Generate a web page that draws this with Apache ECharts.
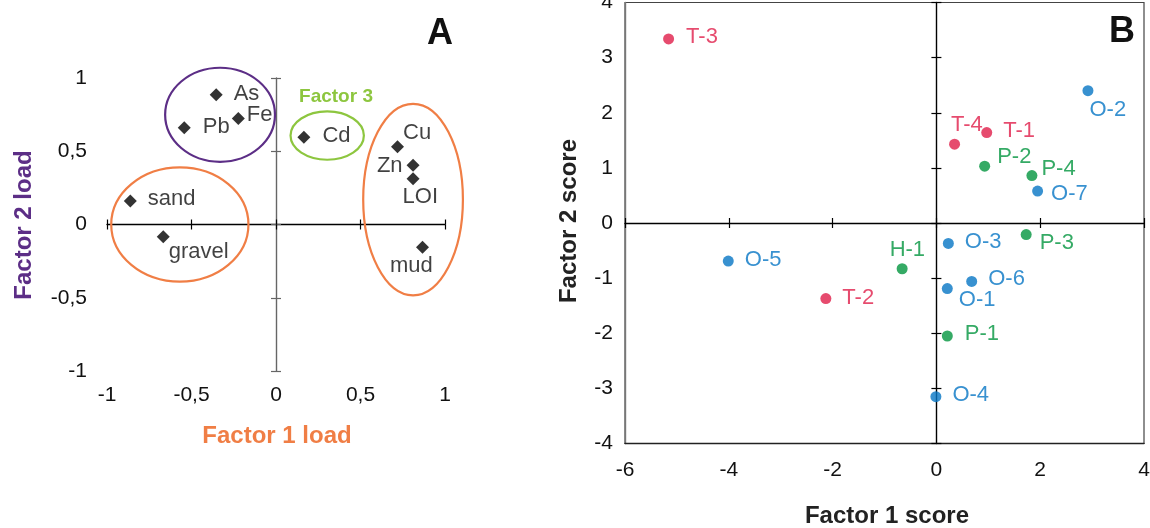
<!DOCTYPE html>
<html>
<head>
<meta charset="utf-8">
<script src="https://cdn.jsdelivr.net/npm/echarts@6/dist/echarts.min.js"></script>
<style>
  html, body { margin: 0; padding: 0; background: #fff; }
  #chart { width: 1150px; height: 528px; }
</style>
</head>
<body>
<div id="chart"></div>
<script>
// ---- Panel A: variable loadings on factors 1 and 2 ----
const loadNames = ['As', 'Fe', 'Pb', 'Cd', 'Cu', 'Zn', 'LOI', 'sand', 'gravel', 'mud'];
const loadF1 = [-0.354, -0.223, -0.543, 0.165, 0.719, 0.811, 0.811, -0.862, -0.667, 0.867];
const loadF2 = [0.886, 0.724, 0.660, 0.596, 0.530, 0.405, 0.313, 0.161, -0.083, -0.156];

// Groups circled round the loadings: centre and half-axes in load units
const groupCx = [-0.331, -0.569, 0.303, 0.811];
const groupCy = [0.749, 0.000, 0.607, 0.170];
const groupRx = [0.325, 0.406, 0.217, 0.295];
const groupRy = [0.321, 0.390, 0.165, 0.654];

// Load axis ticks
const loadTicks = [-1, -0.5, 0, 0.5, 1];

// ---- Panel B: sample scores on factors 1 and 2 ----
const siteNames = ['T-1', 'T-2', 'T-3', 'T-4', 'O-1', 'O-2', 'O-3', 'O-4', 'O-5', 'O-6', 'O-7', 'P-1', 'P-2', 'P-3', 'P-4', 'H-1'];
const siteF1 = [0.97, -2.13, -5.16, 0.35, 0.21, 2.92, 0.23, -0.01, -4.01, 0.68, 1.95, 0.21, 0.93, 1.73, 1.84, -0.66];
const siteF2 = [1.64, -1.37, 3.34, 1.43, -1.19, 2.40, -0.37, -3.15, -0.69, -1.06, 0.58, -2.05, 1.03, -0.21, 0.86, -0.83];
const siteGroup = ['T', 'T', 'T', 'T', 'O', 'O', 'O', 'O', 'O', 'O', 'O', 'P', 'P', 'P', 'P', 'P'];

// Score axis ticks
const scoreXTicks = [-6, -4, -2, 0, 2, 4];
const scoreYTicks = [-4, -3, -2, -1, 0, 1, 2, 3, 4];

// ---- styling ----
const FONT = '"Liberation Sans", Arial, Helvetica, sans-serif';
const groupColors = { T: '#E01E4A', O: '#0675C4', P: '#02953E' };
const ringColors = ['#5C2E86', '#F07E45', '#8DC63F', '#F07E45'];

// label placement [dx, dy] beside each marker
const loadLabelShift = {
  As: [11, -1], Fe: [2, -3], Pb: [12, -1], Cd: [12, -1], Cu: [-1, -14],
  LOI: [-17, 18], sand: [11, -2], gravel: [-1, 15], mud: [-39, 19]
};
const siteLabelShift = {
  'T-1': [11, -2], 'T-2': [11, -1], 'T-3': [12, -2], 'T-4': [-9, -19],
  'O-1': [6, 11], 'O-2': [-4, 19], 'O-3': [11, -1], 'O-4': [11, -2],
  'O-5': [11, -1], 'O-6': [11, -2], 'O-7': [8, 3],
  'P-1': [12, -2], 'P-2': [7, -9], 'P-3': [8, 8], 'P-4': [4, -7], 'H-1': [-18, -19]
};

const comma = v => String(v).replace('.', ',');

function valueAxis(grid, lo, hi, step, extra) {
  return Object.assign({
    type: 'value', gridIndex: grid, min: lo, max: hi, interval: step,
    splitLine: { show: false },
    axisLabel: { show: false },
    axisTick: { show: false },
    axisLine: { show: false, onZero: false }
  }, extra);
}
function labelAxis(grid, lo, hi, step, margin, line) {
  return valueAxis(grid, lo, hi, step, {
    axisLabel: { show: true, fontSize: 21, fontFamily: FONT, color: '#111', margin: margin, formatter: comma },
    axisLine: line ? { show: true, onZero: false, lineStyle: line } : { show: false, onZero: false }
  });
}
function zeroLineAxis(grid, lo, hi, step, color) {
  return valueAxis(grid, lo, hi, step, {
    axisLine: { show: true, onZero: true, lineStyle: { color: color, width: 1.4 } },
    axisTick: { show: true, inside: false, length: 5, lineStyle: { color: color, width: 1.2 } }
  });
}
function zeroInnerTicks(grid, lo, hi, step, color) {
  return valueAxis(grid, lo, hi, step, {
    axisLine: { show: false, onZero: true },
    axisTick: { show: true, inside: true, length: 5, lineStyle: { color: color, width: 1.2 } }
  });
}

const lStep = loadTicks[1] - loadTicks[0];
const lMin = loadTicks[0], lMax = loadTicks[loadTicks.length - 1];
const sxStep = scoreXTicks[1] - scoreXTicks[0];
const sxMin = scoreXTicks[0], sxMax = scoreXTicks[scoreXTicks.length - 1];
const syStep = scoreYTicks[1] - scoreYTicks[0];
const syMin = scoreYTicks[0], syMax = scoreYTicks[scoreYTicks.length - 1];

// loadings as diamonds
const loadData = loadNames.map((n, i) => {
  const d = { name: n, value: [loadF1[i], loadF2[i]] };
  if (n === 'Zn') {
    d.label = { position: 'left', distance: 4, offset: [0, 1] };
  } else {
    d.label = { position: 'right', distance: 0, offset: loadLabelShift[n] };
  }
  return d;
});

const groupData = groupCx.map((c, i) => [c, groupCy[i], groupRx[i], groupRy[i], i]);

function siteSeries(key) {
  const data = [];
  siteNames.forEach((n, i) => {
    if (siteGroup[i] !== key) return;
    data.push({ name: n, value: [siteF1[i], siteF2[i]],
      label: { position: 'right', distance: 0, offset: siteLabelShift[n] } });
  });
  return {
    type: 'scatter', xAxisIndex: 3, yAxisIndex: 3, symbol: 'circle', symbolSize: 11,
    itemStyle: { color: groupColors[key] },
    label: { show: true, formatter: '{b}', fontSize: 22, fontFamily: FONT, color: groupColors[key] },
    data: data, z: 5
  };
}

const chart = echarts.init(document.getElementById('chart'), null, { renderer: 'canvas' });

chart.setOption({
  animation: false,
  backgroundColor: '#fff',
  grid: [
    { left: 107, top: 78, width: 338, height: 293, show: false, outerBoundsMode: 'none', containLabel: false },
    { left: 625, top: 2.5, width: 519, height: 441, show: true, borderColor: '#444', borderWidth: 1.2,
      backgroundColor: 'transparent', outerBoundsMode: 'none', containLabel: false }
  ],
  xAxis: [
    labelAxis(0, lMin, lMax, lStep, 14, null),
    zeroLineAxis(0, lMin, lMax, lStep, '#000'),
    zeroInnerTicks(0, lMin, lMax, lStep, '#000'),
    labelAxis(1, sxMin, sxMax, sxStep, 16, { color: '#222', width: 1.4 }),
    zeroLineAxis(1, sxMin, sxMax, sxStep, '#000'),
    zeroInnerTicks(1, sxMin, sxMax, sxStep, '#000')
  ],
  yAxis: [
    labelAxis(0, lMin, lMax, lStep, 20, null),
    zeroLineAxis(0, lMin, lMax, lStep, '#666'),
    zeroInnerTicks(0, lMin, lMax, lStep, '#666'),
    labelAxis(1, syMin, syMax, syStep, 12, { color: '#777', width: 1.4 }),
    zeroLineAxis(1, syMin, syMax, syStep, '#000'),
    zeroInnerTicks(1, syMin, syMax, syStep, '#000')
  ],
  series: [
    {
      type: 'custom', xAxisIndex: 0, yAxisIndex: 0, z: 3,
      data: groupData,
      renderItem: function (params, api) {
        const c = api.coord([api.value(0), api.value(1)]);
        const s = api.size([api.value(2), api.value(3)]);
        return {
          type: 'ellipse',
          shape: { cx: c[0], cy: c[1], rx: s[0], ry: s[1] },
          style: { fill: 'none', stroke: ringColors[api.value(4)], lineWidth: 2.2 }
        };
      }
    },
    {
      type: 'scatter', xAxisIndex: 0, yAxisIndex: 0, symbol: 'diamond', symbolSize: 13,
      itemStyle: { color: '#000' }, z: 5,
      label: { show: true, formatter: '{b}', fontSize: 22, fontFamily: FONT, color: '#111' },
      data: loadData
    },
    siteSeries('T'),
    siteSeries('O'),
    siteSeries('P')
  ],
  graphic: [
    { type: 'text', x: 440, y: 34, style: { text: 'A', font: 'bold 36px ' + FONT, fill: '#111', align: 'center', verticalAlign: 'middle' } },
    { type: 'text', x: 1122, y: 32, z: 10, style: { text: 'B', font: 'bold 36px ' + FONT, fill: '#111', align: 'center', verticalAlign: 'middle' } },
    { type: 'text', x: 336, y: 97, style: { text: 'Factor 3', font: 'bold 19px ' + FONT, fill: '#8DC63F', align: 'center', verticalAlign: 'middle' } },
    { type: 'text', x: 277, y: 436, style: { text: 'Factor 1 load', font: 'bold 24px ' + FONT, fill: '#F07E45', align: 'center', verticalAlign: 'middle' } },
    { type: 'text', x: 24, y: 225, rotation: Math.PI / 2, style: { text: 'Factor 2 load', font: 'bold 24px ' + FONT, fill: '#5C2E86', align: 'center', verticalAlign: 'middle' } },
    { type: 'text', x: 887, y: 516, style: { text: 'Factor 1 score', font: 'bold 24px ' + FONT, fill: '#222', align: 'center', verticalAlign: 'middle' } },
    { type: 'text', x: 569, y: 221, rotation: Math.PI / 2, style: { text: 'Factor 2 score', font: 'bold 24px ' + FONT, fill: '#222', align: 'center', verticalAlign: 'middle' } }
  ]
});
</script>
</body>
</html>
